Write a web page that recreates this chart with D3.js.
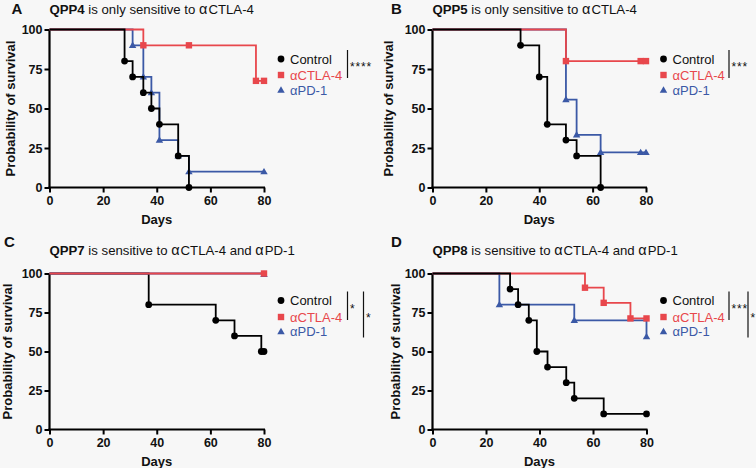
<!DOCTYPE html>
<html><head><meta charset="utf-8">
<script src="https://cdn.jsdelivr.net/npm/d3@7"></script>
<style>
html,body{margin:0;padding:0;background:#f7f7f7;}
svg{display:block;font-family:"Liberation Sans",Arial,Helvetica,sans-serif;}
</style></head>
<body>
<svg id="chart" width="756" height="468"></svg>
<script>
// ---------- data ----------
const xTicks = [0, 20, 40, 60, 80];
const yTicks = [0, 25, 50, 75, 100];
const groupNames = ["Control", "αCTLA-4", "αPD-1"];
const panelLetters = ["A", "B", "C", "D"];
const titleBold = ["QPP4", "QPP5", "QPP7", "QPP8"];
const titleRest = [" is only sensitive to αCTLA-4", " is only sensitive to αCTLA-4",
                   " is sensitive to αCTLA-4 and αPD-1", " is sensitive to αCTLA-4 and αPD-1"];
const xLabel = "Days";
const yLabel = "Probability of survival";
const sigLabels = [["****"], ["***"], ["*", "*"], ["***", "*"]];

// QPP4
const qpp4ControlDays = [0, 28, 31, 35, 38, 41, 48, 52];
const qpp4ControlSurv = [100, 80, 70, 60, 50, 40, 20, 0];
const qpp4CtlaDays = [0, 35, 52, 77, 80];
const qpp4CtlaSurv = [100, 90, 90, 67.5, 67.5];
const qpp4Pd1Days = [0, 31, 35, 38, 41, 48, 52, 80];
const qpp4Pd1Surv = [100, 90, 70, 60, 30, 20, 10, 10];
// QPP5
const qpp5ControlDays = [0, 33, 40, 43, 50, 54, 63];
const qpp5ControlSurv = [100, 90, 70, 40, 30, 20, 0];
const qpp5CtlaDays = [0, 50, 78, 80];
const qpp5CtlaSurv = [100, 80, 80, 80];
const qpp5Pd1Days = [0, 50, 54, 63, 78, 80];
const qpp5Pd1Surv = [100, 55.6, 33.3, 22.2, 22.2, 22.2];
// QPP7
const qpp7ControlDays = [0, 37, 62, 69, 79, 80];
const qpp7ControlSurv = [100, 80, 70, 60, 50, 50];
const qpp7CtlaDays = [0, 80];
const qpp7CtlaSurv = [100, 100];
const qpp7Pd1Days = [0, 80];
const qpp7Pd1Surv = [100, 99.5];
// QPP8
const qpp8ControlDays = [0, 29, 32, 36, 39, 43, 50, 53, 64, 80];
const qpp8ControlSurv = [100, 90, 80, 70, 50, 40, 30, 20, 10, 10];
const qpp8CtlaDays = [0, 57, 64, 74, 80];
const qpp8CtlaSurv = [100, 90.9, 81.2, 71.2, 71.2];
const qpp8Pd1Days = [0, 25, 53, 80];
const qpp8Pd1Surv = [100, 80, 70, 59.5];

const panelSeries = [
  [[qpp4ControlDays, qpp4ControlSurv], [qpp4CtlaDays, qpp4CtlaSurv], [qpp4Pd1Days, qpp4Pd1Surv]],
  [[qpp5ControlDays, qpp5ControlSurv], [qpp5CtlaDays, qpp5CtlaSurv], [qpp5Pd1Days, qpp5Pd1Surv]],
  [[qpp7ControlDays, qpp7ControlSurv], [qpp7CtlaDays, qpp7CtlaSurv], [qpp7Pd1Days, qpp7Pd1Surv]],
  [[qpp8ControlDays, qpp8ControlSurv], [qpp8CtlaDays, qpp8CtlaSurv], [qpp8Pd1Days, qpp8Pd1Surv]]
];

// ---------- layout / style ----------
const colors = ["#000000", "#e8474c", "#3b59a6"];
const layout = [
  {x0: 49.5, x1: 264, y0: 187.5, y1: 29.5, letterX: 11.5, letterY: 13.5, titleY: 13.5, ylabX: 15,
   legX: 281, legY: [59, 75, 90], bars: [{x: 347.5}], order: [2, 1, 0]},
  {x0: 432.5, x1: 646, y0: 187.5, y1: 29.5, letterX: 391, letterY: 13.5, titleY: 13.5, ylabX: 393,
   legX: 663.5, legY: [59, 75, 90], bars: [{x: 729}], order: [2, 1, 0]},
  {x0: 49.5, x1: 264, y0: 429.5, y1: 273.5, letterX: 4, letterY: 247.3, titleY: 254.8, ylabX: 11.7,
   legX: 281, legY: [300.5, 317, 331.5], bars: [{x: 347.5}, {x: 363.5}], order: [0, 2, 1]},
  {x0: 432.5, x1: 646.5, y0: 429.5, y1: 273.5, letterX: 391, letterY: 246.7, titleY: 254.8, ylabX: 399.5,
   legX: 663.5, legY: [300.5, 317, 331.5], bars: [{x: 729}, {x: 748}], order: [2, 1, 0]}
];

const svg = d3.select("#chart");

function marker(g, type, x, y, color) {
  if (type === 0) {
    g.append("circle").attr("cx", x).attr("cy", y).attr("r", 3.4).attr("fill", color);
  } else if (type === 1) {
    const w = 6.4;
    g.append("rect").attr("x", x - w / 2).attr("y", y - w / 2).attr("width", w).attr("height", w).attr("fill", color);
  } else {
    const sym = d3.symbol().type(d3.symbolTriangle).size(24);
    g.append("path").attr("d", sym()).attr("transform", `translate(${x},${y + 0.5})`).attr("fill", color);
  }
}

layout.forEach((L, p) => {
  const g = svg.append("g");
  const x = d3.scaleLinear().domain([0, 80]).range([L.x0, L.x1]);
  const y = d3.scaleLinear().domain([0, 100]).range([L.y0, L.y1]);

  // letter & title
  g.append("text").attr("x", L.letterX).attr("y", L.letterY).attr("font-size", 15)
    .attr("font-weight", "bold").attr("fill", "#111").text(panelLetters[p]);
  const t = g.append("text").attr("x", L.x0).attr("y", L.titleY).attr("font-size", 13.2).attr("fill", "#111");
  t.append("tspan").attr("font-weight", "bold").text(titleBold[p]);
  titleRest[p].split("α").forEach((part, i) => {
    if (i > 0) t.append("tspan").attr("font-size", 14.5).attr("letter-spacing", 1).text("α");
    t.append("tspan").text(part);
  });

  // axes
  const xa = g.append("g").attr("transform", `translate(0,${L.y0})`)
    .call(d3.axisBottom(x).tickValues(xTicks).tickSize(5).tickPadding(3.5).tickSizeOuter(0));
  const ya = g.append("g").attr("transform", `translate(${L.x0},0)`)
    .call(d3.axisLeft(y).tickValues(yTicks).tickSize(5).tickPadding(2).tickSizeOuter(0));
  [xa, ya].forEach(a => {
    a.select(".domain").attr("stroke", "#000").attr("stroke-width", 2.2);
    a.selectAll(".tick line").attr("stroke", "#000").attr("stroke-width", 2);
    a.selectAll(".tick text").attr("font-size", 12.5).attr("font-weight", "bold")
      .attr("fill", "#111").attr("font-family", "'Liberation Sans',Arial,sans-serif");
  });
  ya.select(".domain").attr("d", `M0,${L.y0 + 1}V${L.y1}`);
  xa.select(".domain").attr("d", `M${L.x0 - 1},0H${L.x1 + 1}`);

  g.append("text").attr("x", (L.x0 + L.x1) / 2).attr("y", L.y0 + 36.5).attr("text-anchor", "middle")
    .attr("font-size", 13).attr("font-weight", "bold").attr("fill", "#111").text(xLabel);
  g.append("text").attr("transform", `translate(${L.ylabX},${(L.y0 + L.y1) / 2}) rotate(-90)`)
    .attr("text-anchor", "middle").attr("font-size", 13).attr("font-weight", "bold")
    .attr("fill", "#111").text(yLabel);

  // curves
  const line = d3.line().x(d => x(d[0])).y(d => y(d[1])).curve(d3.curveStepAfter);
  L.order.forEach(si => {
    const [ds, ss] = panelSeries[p][si];
    const pts = ds.map((d, i) => [d, ss[i]]);
    g.append("path").attr("d", line(pts)).attr("fill", "none").attr("stroke", colors[si])
      .attr("stroke-width", 1.8);
    pts.slice(1).forEach(pt => marker(g, si, x(pt[0]), y(pt[1]), colors[si]));
  });

  // legend
  groupNames.forEach((name, i) => {
    marker(g, i, L.legX, L.legY[i], colors[i]);
    g.append("text").attr("x", L.legX + 9).attr("y", L.legY[i] + 4.5).attr("font-size", 13)
      .attr("fill", i === 0 ? "#111" : colors[i]).text(name);
  });

  // significance brackets
  L.bars.forEach((b, k) => {
    const top = L.legY[0] - 9;
    const bot = k === 0 ? L.legY[1] + 3 : L.legY[2] + 6;
    g.append("line").attr("x1", b.x).attr("x2", b.x).attr("y1", top).attr("y2", bot)
      .attr("stroke", "#111").attr("stroke-width", 1.2);
    g.append("text").attr("x", b.x + 2.5).attr("y", (top + bot) / 2 + 7).attr("font-size", 12)
      .attr("letter-spacing", 0.8).attr("fill", "#111").text(sigLabels[p][k]);
  });
});
</script>
</body></html>
